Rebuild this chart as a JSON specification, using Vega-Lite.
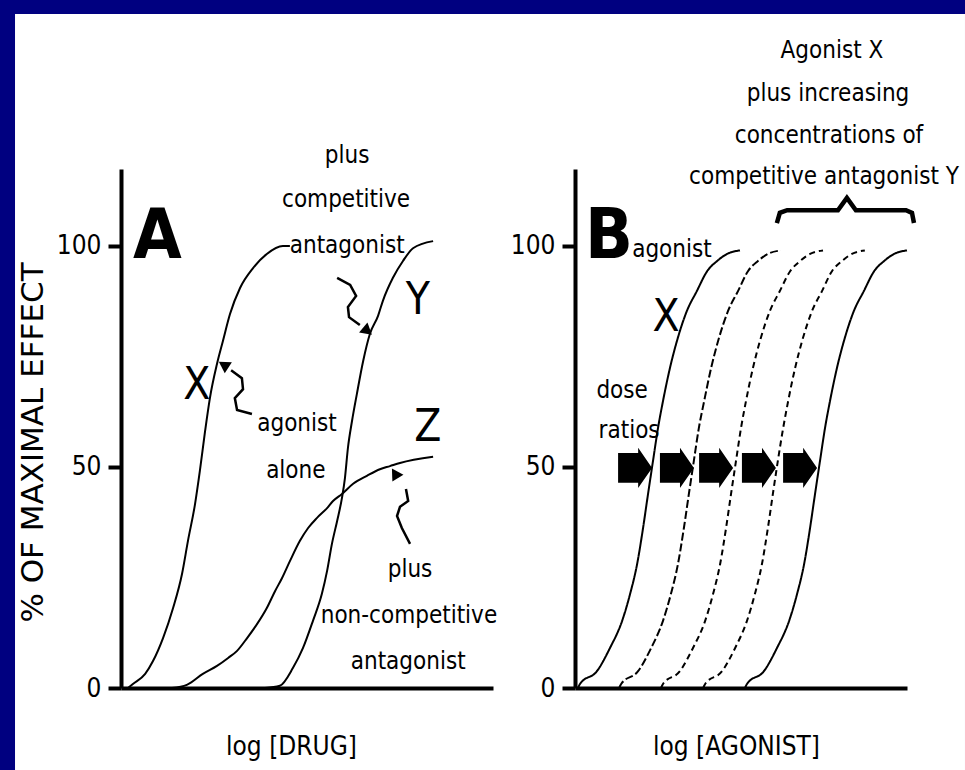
{
  "$schema": "https://vega.github.io/schema/vega-lite/v6.json",
  "background": "#000080",
  "padding": {"left": 15, "top": 13, "right": 0, "bottom": 0},
  "autosize": {"type": "pad"},
  "bounds": "flush",
  "spacing": 82,
  "config": {
    "view": {"stroke": null},
    "axis": {
      "grid": false,
      "domainColor": "black", "domainWidth": 4,
      "tickColor": "black", "tickWidth": 4, "tickSize": 13,
      "labelColor": "black", "labelFont": "Liberation Sans Narrow, DejaVu Sans Condensed, Arial Narrow, sans-serif",
      "labelFontSize": 26, "labelPadding": 7,
      "titleColor": "black", "titleFontWeight": "normal"
    }
  },
  "datasets": {
    "frame": [{"x": -28.49, "x2": 226.88, "y": -18.78, "y2": 152.49}],
    "curvesA": [
      {"series": "X", "x": 1.9, "y": 0}, {"series": "X", "x": 3.2, "y": 0.9}, {"series": "X", "x": 6.5, "y": 3.2}, {"series": "X", "x": 8.6, "y": 6.1},
      {"series": "X", "x": 11.3, "y": 11.3}, {"series": "X", "x": 14.0, "y": 18.1}, {"series": "X", "x": 16.4, "y": 25.8}, {"series": "X", "x": 18.0, "y": 33.3},
      {"series": "X", "x": 19.9, "y": 41.6}, {"series": "X", "x": 21.2, "y": 49.1}, {"series": "X", "x": 22.6, "y": 58.1}, {"series": "X", "x": 23.9, "y": 65.6},
      {"series": "X", "x": 25.8, "y": 73.3}, {"series": "X", "x": 27.4, "y": 78.5}, {"series": "X", "x": 29.3, "y": 84.6}, {"series": "X", "x": 32.0, "y": 90.5},
      {"series": "X", "x": 35.5, "y": 95.0}, {"series": "X", "x": 39.2, "y": 98.2}, {"series": "X", "x": 43.5, "y": 100}, {"series": "X", "x": 45.4, "y": 100},
      {"series": "Y", "x": 38.7, "y": 0}, {"series": "Y", "x": 42.7, "y": 0.5}, {"series": "Y", "x": 46.2, "y": 4.5}, {"series": "Y", "x": 48.9, "y": 9.0},
      {"series": "Y", "x": 51.6, "y": 15.2}, {"series": "Y", "x": 54.0, "y": 21.3}, {"series": "Y", "x": 55.4, "y": 26.5}, {"series": "Y", "x": 56.7, "y": 32.6},
      {"series": "Y", "x": 58.1, "y": 37.8}, {"series": "Y", "x": 59.4, "y": 43.0}, {"series": "Y", "x": 60.2, "y": 47.5}, {"series": "Y", "x": 61.0, "y": 54.3},
      {"series": "Y", "x": 62.1, "y": 60.4}, {"series": "Y", "x": 63.4, "y": 66.5}, {"series": "Y", "x": 65.1, "y": 74.0}, {"series": "Y", "x": 66.9, "y": 80.1},
      {"series": "Y", "x": 69.1, "y": 84.2}, {"series": "Y", "x": 70.4, "y": 87.6}, {"series": "Y", "x": 73.1, "y": 92.8}, {"series": "Y", "x": 75.8, "y": 96.6},
      {"series": "Y", "x": 78.5, "y": 99.5}, {"series": "Y", "x": 83.9, "y": 101.1},
      {"series": "Z", "x": 13.7, "y": 0}, {"series": "Z", "x": 17.7, "y": 0.7}, {"series": "Z", "x": 22.0, "y": 3.2}, {"series": "Z", "x": 25.8, "y": 5.0},
      {"series": "Z", "x": 28.8, "y": 6.8}, {"series": "Z", "x": 31.2, "y": 8.4}, {"series": "Z", "x": 33.9, "y": 11.3}, {"series": "Z", "x": 36.6, "y": 14.5},
      {"series": "Z", "x": 39.2, "y": 18.1}, {"series": "Z", "x": 41.4, "y": 21.9}, {"series": "Z", "x": 43.3, "y": 24.9}, {"series": "Z", "x": 45.4, "y": 28.7},
      {"series": "Z", "x": 48.1, "y": 33.3}, {"series": "Z", "x": 50.3, "y": 36.2}, {"series": "Z", "x": 52.7, "y": 38.5}, {"series": "Z", "x": 55.4, "y": 40.7},
      {"series": "Z", "x": 57.0, "y": 42.3}, {"series": "Z", "x": 59.4, "y": 43.9}, {"series": "Z", "x": 62.4, "y": 46.2}, {"series": "Z", "x": 66.1, "y": 48.0},
      {"series": "Z", "x": 69.6, "y": 49.5}, {"series": "Z", "x": 72.3, "y": 50.2}, {"series": "Z", "x": 75.0, "y": 50.9}, {"series": "Z", "x": 83.9, "y": 52.3}
    ],
    "pointersA": [
      {"arrow": "a1", "i": 1, "x": 35.2, "y": 62.0}, {"arrow": "a1", "i": 2, "x": 31.2, "y": 62.9}, {"arrow": "a1", "i": 3, "x": 30.6, "y": 65.6},
      {"arrow": "a1", "i": 4, "x": 32.8, "y": 67.6}, {"arrow": "a1", "i": 5, "x": 32.5, "y": 70.1}, {"arrow": "a1", "i": 6, "x": 29.6, "y": 71.9},
      {"arrow": "a2", "i": 1, "x": 58.1, "y": 92.8}, {"arrow": "a2", "i": 2, "x": 61.6, "y": 91.2}, {"arrow": "a2", "i": 3, "x": 63.2, "y": 88.7},
      {"arrow": "a2", "i": 4, "x": 61.0, "y": 86.2}, {"arrow": "a2", "i": 5, "x": 61.3, "y": 83.9}, {"arrow": "a2", "i": 6, "x": 64.2, "y": 82.1},
      {"arrow": "a3", "i": 1, "x": 77.7, "y": 32.6}, {"arrow": "a3", "i": 2, "x": 75.5, "y": 36.2}, {"arrow": "a3", "i": 3, "x": 74.2, "y": 38.9},
      {"arrow": "a3", "i": 4, "x": 75.0, "y": 41.0}, {"arrow": "a3", "i": 5, "x": 77.2, "y": 42.3}, {"arrow": "a3", "i": 6, "x": 76.6, "y": 45.0}
    ],
    "headsA": [
      {"arrow": "a1", "x": 28.0, "y": 72.9},
      {"arrow": "a2", "x": 65.9, "y": 81.0},
      {"arrow": "a3", "x": 73.9, "y": 48.2}
    ],
    "labelsA": [
      {"text": "A", "x": 3.2, "y": 97.3, "role": "panel"},
      {"text": "plus", "x": 60.8, "y": 118.8, "role": "note"},
      {"text": "competitive", "x": 60.5, "y": 108.8, "role": "note"},
      {"text": "antagonist", "x": 60.8, "y": 98.4, "role": "note"},
      {"text": "Y", "x": 79.8, "y": 84.6, "role": "curve"},
      {"text": "X", "x": 20.4, "y": 65.4, "role": "curve"},
      {"text": "agonist", "x": 47.3, "y": 58.1, "role": "note"},
      {"text": "alone", "x": 47.0, "y": 47.5, "role": "note"},
      {"text": "Z", "x": 82.5, "y": 55.9, "role": "curve"},
      {"text": "plus", "x": 77.7, "y": 25.1, "role": "note"},
      {"text": "non-competitive", "x": 77.4, "y": 14.7, "role": "note"},
      {"text": "antagonist", "x": 77.2, "y": 4.3, "role": "note"}
    ],
    "curvesB": [
      {"series": "c1", "x": 0.9, "y": 0}, {"series": "c1", "x": 1.5, "y": 0.9}, {"series": "c1", "x": 6.6, "y": 3.8}, {"series": "c1", "x": 10.5, "y": 9},
      {"series": "c1", "x": 14.2, "y": 15.2}, {"series": "c1", "x": 16.6, "y": 21.3}, {"series": "c1", "x": 18.7, "y": 28}, {"series": "c1", "x": 20.5, "y": 36.2},
      {"series": "c1", "x": 22.0, "y": 43.9}, {"series": "c1", "x": 23.5, "y": 51.4}, {"series": "c1", "x": 25.0, "y": 58.8}, {"series": "c1", "x": 26.5, "y": 64.9},
      {"series": "c1", "x": 28.6, "y": 72.4}, {"series": "c1", "x": 30.7, "y": 78.5}, {"series": "c1", "x": 33.7, "y": 85.3}, {"series": "c1", "x": 36.7, "y": 89.8},
      {"series": "c1", "x": 39.8, "y": 94.3}, {"series": "c1", "x": 42.8, "y": 96.6}, {"series": "c1", "x": 45.8, "y": 98.2}, {"series": "c1", "x": 49.7, "y": 99.0},
      {"series": "c2", "x": 13.3, "y": 0}, {"series": "c2", "x": 13.9, "y": 0.9}, {"series": "c2", "x": 19.0, "y": 3.8}, {"series": "c2", "x": 22.9, "y": 9},
      {"series": "c2", "x": 26.5, "y": 15.2}, {"series": "c2", "x": 28.9, "y": 21.3}, {"series": "c2", "x": 31.0, "y": 28}, {"series": "c2", "x": 32.8, "y": 36.2},
      {"series": "c2", "x": 34.3, "y": 43.9}, {"series": "c2", "x": 35.8, "y": 51.4}, {"series": "c2", "x": 37.3, "y": 58.8}, {"series": "c2", "x": 38.9, "y": 64.9},
      {"series": "c2", "x": 41.0, "y": 72.4}, {"series": "c2", "x": 43.1, "y": 78.5}, {"series": "c2", "x": 46.1, "y": 85.3}, {"series": "c2", "x": 49.1, "y": 89.8},
      {"series": "c2", "x": 52.1, "y": 94.3}, {"series": "c2", "x": 55.1, "y": 96.6}, {"series": "c2", "x": 58.1, "y": 98.2}, {"series": "c2", "x": 62.0, "y": 99.0},
      {"series": "c3", "x": 25.9, "y": 0}, {"series": "c3", "x": 26.5, "y": 0.9}, {"series": "c3", "x": 31.6, "y": 3.8}, {"series": "c3", "x": 35.5, "y": 9},
      {"series": "c3", "x": 39.2, "y": 15.2}, {"series": "c3", "x": 41.6, "y": 21.3}, {"series": "c3", "x": 43.7, "y": 28}, {"series": "c3", "x": 45.5, "y": 36.2},
      {"series": "c3", "x": 47.0, "y": 43.9}, {"series": "c3", "x": 48.5, "y": 51.4}, {"series": "c3", "x": 50.0, "y": 58.8}, {"series": "c3", "x": 51.5, "y": 64.9},
      {"series": "c3", "x": 53.6, "y": 72.4}, {"series": "c3", "x": 55.7, "y": 78.5}, {"series": "c3", "x": 58.7, "y": 85.3}, {"series": "c3", "x": 61.7, "y": 89.8},
      {"series": "c3", "x": 64.8, "y": 94.3}, {"series": "c3", "x": 67.8, "y": 96.6}, {"series": "c3", "x": 70.8, "y": 98.2}, {"series": "c3", "x": 74.7, "y": 99.0},
      {"series": "c4", "x": 38.6, "y": 0}, {"series": "c4", "x": 39.2, "y": 0.9}, {"series": "c4", "x": 44.3, "y": 3.8}, {"series": "c4", "x": 48.2, "y": 9},
      {"series": "c4", "x": 51.8, "y": 15.2}, {"series": "c4", "x": 54.2, "y": 21.3}, {"series": "c4", "x": 56.3, "y": 28}, {"series": "c4", "x": 58.1, "y": 36.2},
      {"series": "c4", "x": 59.6, "y": 43.9}, {"series": "c4", "x": 61.1, "y": 51.4}, {"series": "c4", "x": 62.7, "y": 58.8}, {"series": "c4", "x": 64.2, "y": 64.9},
      {"series": "c4", "x": 66.3, "y": 72.4}, {"series": "c4", "x": 68.4, "y": 78.5}, {"series": "c4", "x": 71.4, "y": 85.3}, {"series": "c4", "x": 74.4, "y": 89.8},
      {"series": "c4", "x": 77.4, "y": 94.3}, {"series": "c4", "x": 80.4, "y": 96.6}, {"series": "c4", "x": 83.4, "y": 98.2}, {"series": "c4", "x": 87.3, "y": 99.0},
      {"series": "c5", "x": 51.2, "y": 0}, {"series": "c5", "x": 51.8, "y": 0.9}, {"series": "c5", "x": 56.9, "y": 3.8}, {"series": "c5", "x": 60.8, "y": 9},
      {"series": "c5", "x": 64.5, "y": 15.2}, {"series": "c5", "x": 66.9, "y": 21.3}, {"series": "c5", "x": 69.0, "y": 28}, {"series": "c5", "x": 70.8, "y": 36.2},
      {"series": "c5", "x": 72.3, "y": 43.9}, {"series": "c5", "x": 73.8, "y": 51.4}, {"series": "c5", "x": 75.3, "y": 58.8}, {"series": "c5", "x": 76.8, "y": 64.9},
      {"series": "c5", "x": 78.9, "y": 72.4}, {"series": "c5", "x": 81.0, "y": 78.5}, {"series": "c5", "x": 84.0, "y": 85.3}, {"series": "c5", "x": 87.0, "y": 89.8},
      {"series": "c5", "x": 90.1, "y": 94.3}, {"series": "c5", "x": 93.1, "y": 96.6}, {"series": "c5", "x": 96.1, "y": 98.2}, {"series": "c5", "x": 100, "y": 99.0}
    ],
    "doseRatios": [
      {"step": 1, "x": 18.1, "y": 49.8}, {"step": 2, "x": 30.7, "y": 49.8}, {"step": 3, "x": 42.5, "y": 49.8},
      {"step": 4, "x": 55.4, "y": 49.8}, {"step": 5, "x": 67.8, "y": 49.8}
    ],
    "brace": [
      {"i": 1, "x": 60.8, "y": 105.2}, {"i": 2, "x": 61.7, "y": 107.5}, {"i": 3, "x": 63.9, "y": 108.1},
      {"i": 4, "x": 79.2, "y": 108.1}, {"i": 5, "x": 81.9, "y": 110.9}, {"i": 6, "x": 84.6, "y": 108.1},
      {"i": 7, "x": 99.7, "y": 108.1}, {"i": 8, "x": 101.5, "y": 107.5}, {"i": 9, "x": 102.1, "y": 105.2}
    ],
    "labelsB": [
      {"text": "B", "x": 3.0, "y": 97.3, "role": "panel"},
      {"text": "agonist", "x": 29.2, "y": 97.5, "role": "note"},
      {"text": "X", "x": 27.4, "y": 80.8, "role": "curve"},
      {"text": "dose", "x": 14.2, "y": 65.6, "role": "note"},
      {"text": "ratios", "x": 16.3, "y": 56.6, "role": "note"},
      {"text": "Agonist X", "x": 77.4, "y": 142.5, "role": "note"},
      {"text": "plus increasing", "x": 76.2, "y": 132.8, "role": "note"},
      {"text": "concentrations of", "x": 76.5, "y": 123.3, "role": "note"},
      {"text": "competitive antagonist Y", "x": 75.0, "y": 114.0, "role": "note"}
    ]
  },
  "hconcat": [
    {
      "width": 372,
      "height": 519,
      "encoding": {
        "x": {"field": "x", "type": "quantitative", "scale": {"domain": [0, 100], "nice": false, "zero": false},
          "axis": {"zindex": 2, "ticks": false, "labels": false, "title": "log [DRUG]", "titleX": 170, "titleY": 58, "titleAlign": "center", "titleBaseline": "middle",
            "titleFont": "Liberation Sans Narrow, DejaVu Sans Condensed, Arial Narrow, sans-serif", "titleFontSize": 26}},
        "y": {"field": "y", "type": "quantitative", "scale": {"domain": [0, 117.42], "nice": false, "zero": false},
          "axis": {"zindex": 2, "values": [0, 50, 100], "title": "% OF MAXIMAL EFFECT", "titleX": -88, "titleY": 273, "titleAngle": -90, "titleAlign": "center", "titleBaseline": "middle",
            "titleFont": "DejaVu Sans", "titleFontSize": 31}}
      },
      "layer": [
        {"data": {"name": "frame"}, "mark": {"type": "rect", "color": "white"}, "encoding": {"x2": {"field": "x2"}, "y2": {"field": "y2"}}},
        {"data": {"name": "curvesA"}, "mark": {"type": "line", "color": "black", "strokeWidth": 2, "interpolate": "monotone"}, "encoding": {"detail": {"field": "series"}}},
        {"data": {"name": "pointersA"}, "mark": {"type": "line", "color": "black", "strokeWidth": 2.5}, "encoding": {"detail": {"field": "arrow"}, "order": {"field": "i"}}},
        {"data": {"name": "headsA"}, "transform": [{"filter": "datum.arrow === 'a1'"}], "mark": {"type": "point", "shape": "triangle", "filled": true, "color": "black", "opacity": 1, "size": 170, "angle": 303}},
        {"data": {"name": "headsA"}, "transform": [{"filter": "datum.arrow === 'a2'"}], "mark": {"type": "point", "shape": "triangle", "filled": true, "color": "black", "opacity": 1, "size": 170, "angle": 130}},
        {"data": {"name": "headsA"}, "transform": [{"filter": "datum.arrow === 'a3'"}], "mark": {"type": "point", "shape": "triangle", "filled": true, "color": "black", "opacity": 1, "size": 170, "angle": 328}},
        {"data": {"name": "labelsA"}, "transform": [{"filter": "datum.role === 'panel'"}], "mark": {"type": "text", "color": "black", "align": "left", "baseline": "alphabetic", "font": "Liberation Sans Narrow, DejaVu Sans Condensed, Arial Narrow, sans-serif", "fontWeight": "bold", "fontSize": 70}, "encoding": {"text": {"field": "text"}}},
        {"data": {"name": "labelsA"}, "transform": [{"filter": "datum.role === 'curve'"}], "mark": {"type": "text", "color": "black", "align": "center", "baseline": "alphabetic", "font": "Liberation Sans Narrow, DejaVu Sans Condensed, Arial Narrow, sans-serif", "fontSize": 44}, "encoding": {"text": {"field": "text"}}},
        {"data": {"name": "labelsA"}, "transform": [{"filter": "datum.role === 'note'"}], "mark": {"type": "text", "color": "black", "align": "center", "baseline": "alphabetic", "font": "Liberation Sans Narrow, DejaVu Sans Condensed, Arial Narrow, sans-serif", "fontSize": 24}, "encoding": {"text": {"field": "text"}}}
      ]
    },
    {
      "width": 332,
      "height": 519,
      "encoding": {
        "x": {"field": "x", "type": "quantitative", "scale": {"domain": [0, 100], "nice": false, "zero": false},
          "axis": {"zindex": 2, "ticks": false, "labels": false, "title": "log [AGONIST]", "titleX": 161, "titleY": 58, "titleAlign": "center", "titleBaseline": "middle",
            "titleFont": "Liberation Sans Narrow, DejaVu Sans Condensed, Arial Narrow, sans-serif", "titleFontSize": 26}},
        "y": {"field": "y", "type": "quantitative", "scale": {"domain": [0, 117.42], "nice": false, "zero": false},
          "axis": {"zindex": 2, "values": [0, 50, 100], "title": null}}
      },
      "layer": [
        {"data": {"name": "curvesB"}, "mark": {"type": "line", "color": "black", "strokeWidth": 2, "interpolate": "monotone"},
          "encoding": {"detail": {"field": "series"},
            "strokeDash": {"field": "series", "type": "nominal", "scale": {"domain": ["c1", "c2", "c3", "c4", "c5"], "range": [[1, 0], [8, 3], [6, 4], [6, 4], [1, 0]]}, "legend": null}}},
        {"data": {"name": "brace"}, "mark": {"type": "line", "color": "black", "strokeWidth": 4.5}, "encoding": {"order": {"field": "i"}}},
        {"data": {"name": "doseRatios"}, "mark": {"type": "point", "shape": "M-1,-0.88L0.18,-0.88L0.18,-1.18L1,0L0.18,1.18L0.18,0.88L-1,0.88Z", "filled": true, "color": "black", "opacity": 1, "size": 1156}},
        {"data": {"name": "labelsB"}, "transform": [{"filter": "datum.role === 'panel'"}], "mark": {"type": "text", "color": "black", "align": "left", "baseline": "alphabetic", "font": "Liberation Sans Narrow, DejaVu Sans Condensed, Arial Narrow, sans-serif", "fontWeight": "bold", "fontSize": 70}, "encoding": {"text": {"field": "text"}}},
        {"data": {"name": "labelsB"}, "transform": [{"filter": "datum.role === 'curve'"}], "mark": {"type": "text", "color": "black", "align": "center", "baseline": "alphabetic", "font": "Liberation Sans Narrow, DejaVu Sans Condensed, Arial Narrow, sans-serif", "fontSize": 44}, "encoding": {"text": {"field": "text"}}},
        {"data": {"name": "labelsB"}, "transform": [{"filter": "datum.role === 'note'"}], "mark": {"type": "text", "color": "black", "align": "center", "baseline": "alphabetic", "font": "Liberation Sans Narrow, DejaVu Sans Condensed, Arial Narrow, sans-serif", "fontSize": 24}, "encoding": {"text": {"field": "text"}}}
      ]
    }
  ]
}
